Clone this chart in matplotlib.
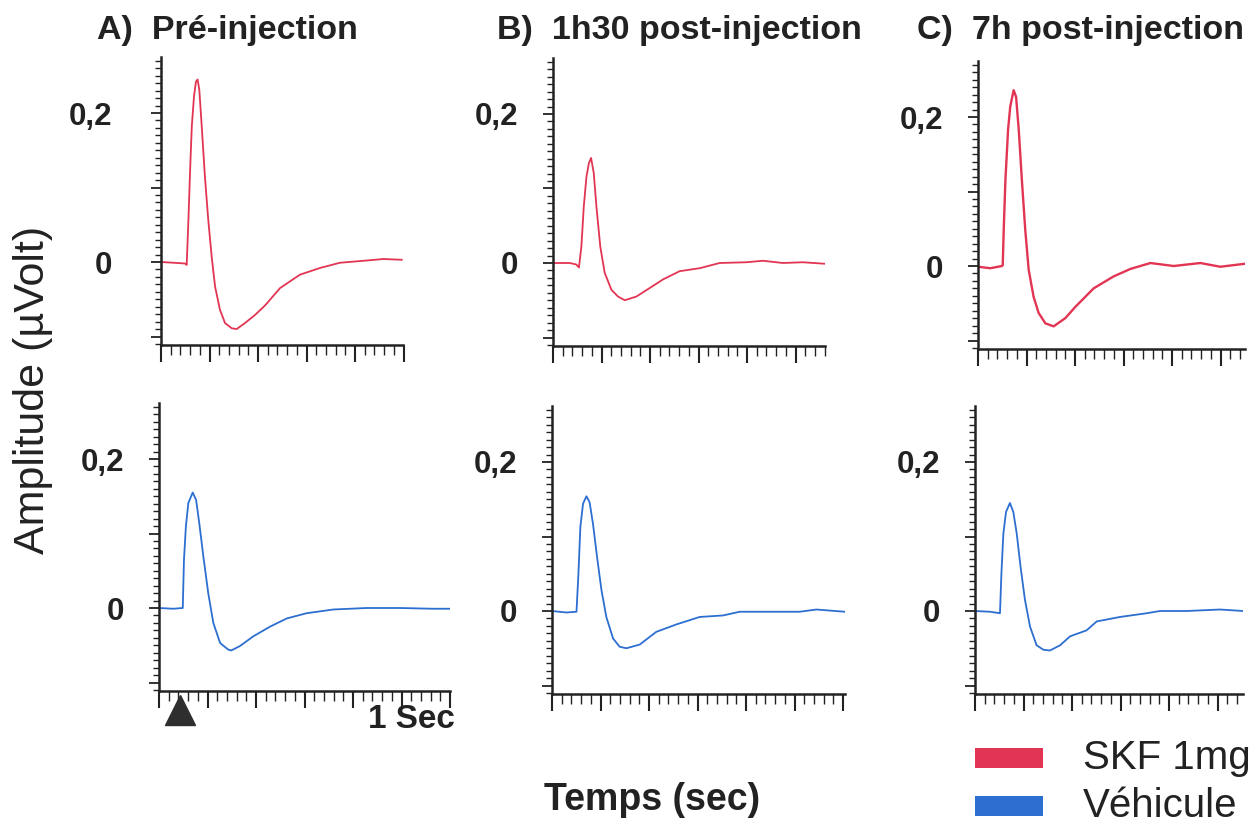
import matplotlib.pyplot as plt
from matplotlib.ticker import MultipleLocator
from matplotlib.patches import Rectangle

plt.rcParams['font.family'] = ['Liberation Sans', 'DejaVu Sans']

# traces: time (s) / amplitude (µV)
t_a_skf = [0, 0.051, 0.099, 0.106, 0.113, 0.120, 0.127, 0.136, 0.144, 0.151, 0.158, 0.168, 0.181,
           0.195, 0.209, 0.223, 0.243, 0.264, 0.292, 0.312, 0.346, 0.388, 0.430, 0.491, 0.573,
           0.656, 0.738, 0.848, 0.917, 0.993]
v_a_skf = [0, -0.001, -0.002, -0.004, 0.056, 0.123, 0.182, 0.222, 0.242, 0.245, 0.231, 0.182, 0.115,
           0.056, 0.007, -0.033, -0.064, -0.082, -0.089, -0.090, -0.082, -0.071, -0.058, -0.035, -0.017,
           -0.008, -0.001, 0.002, 0.004, 0.003]

t_a_veh = [0, 0.059, 0.098, 0.103, 0.111, 0.121, 0.139, 0.153, 0.166, 0.183, 0.203, 0.224, 0.252,
           0.286, 0.298, 0.334, 0.389, 0.458, 0.527, 0.609, 0.719, 0.856, 0.994, 1.13, 1.197]
v_a_veh = [0, -0.001, 0, 0.065, 0.110, 0.141, 0.155, 0.145, 0.114, 0.069, 0.020, -0.020, -0.047,
           -0.056, -0.057, -0.051, -0.038, -0.025, -0.014, -0.007, -0.002, 0, 0, -0.001, -0.001]

t_b_skf = [0, 0.069, 0.096, 0.107, 0.117, 0.127, 0.138, 0.148, 0.157, 0.168, 0.179, 0.195, 0.213,
           0.241, 0.268, 0.296, 0.344, 0.392, 0.454, 0.522, 0.605, 0.687, 0.797, 0.866, 0.948,
           1.03, 1.12]
v_b_skf = [0, 0.0, -0.002, -0.006, 0.022, 0.076, 0.116, 0.134, 0.141, 0.121, 0.076, 0.022, -0.013,
           -0.036, -0.045, -0.050, -0.045, -0.035, -0.022, -0.011, -0.007, 0.0, 0.001, 0.003, 0.0,
           0.001, -0.001]

t_b_veh = [0, 0.059, 0.101, 0.109, 0.117, 0.128, 0.142, 0.155, 0.169, 0.186, 0.204, 0.224, 0.252,
           0.279, 0.307, 0.362, 0.430, 0.513, 0.609, 0.705, 0.774, 0.884, 1.021, 1.090, 1.207]
v_b_veh = [0, -0.002, -0.001, 0.050, 0.113, 0.144, 0.154, 0.146, 0.117, 0.072, 0.028, -0.008, -0.037,
           -0.048, -0.050, -0.045, -0.028, -0.018, -0.008, -0.006, -0.001, -0.001, -0.001, 0.002, -0.001]

t_c_skf = [0, 0.051, 0.099, 0.102, 0.106, 0.113, 0.124, 0.133, 0.147, 0.157, 0.168, 0.181, 0.195,
           0.209, 0.229, 0.250, 0.278, 0.312, 0.360, 0.401, 0.477, 0.559, 0.628, 0.711, 0.807,
           0.917, 0.999, 1.10]
v_c_skf = [-0.001, -0.003, 0.0, 0.001, 0.048, 0.115, 0.183, 0.214, 0.236, 0.227, 0.183, 0.115, 0.048,
           -0.005, -0.041, -0.063, -0.077, -0.081, -0.070, -0.055, -0.030, -0.014, -0.004, 0.004, 0.0,
           0.004, -0.001, 0.003]

t_c_veh = [0, 0.062, 0.103, 0.109, 0.117, 0.128, 0.144, 0.158, 0.172, 0.188, 0.206, 0.227, 0.254,
           0.282, 0.309, 0.351, 0.392, 0.460, 0.502, 0.598, 0.708, 0.763, 0.873, 1.010, 1.106]
v_c_veh = [0, -0.001, -0.003, 0.051, 0.104, 0.133, 0.145, 0.133, 0.104, 0.059, 0.015, -0.021, -0.046,
           -0.052, -0.053, -0.046, -0.034, -0.026, -0.014, -0.008, -0.003, 0, 0, 0.002, 0.0]

titles = ["A)  Pré-injection", "B)  1h30 post-injection", "C)  7h post-injection"]
legend_labels = ["SKF 1mg", "Véhicule"]
stim_time = 0.087

RED = '#e23553'
BLUE = '#2c6fd1'
W, H = 1256, 823
XS, YS = 242.5, 745.0   # px per second, px per µV
YMIN, YMAX = -0.112, 0.275

fig = plt.figure(figsize=(W / 100, H / 100), dpi=100)


def make_axes(left, y0, xmax, pad):
    right = left + xmax * XS
    top = y0 - YMAX * YS
    bottom = y0 - YMIN * YS
    ax = fig.add_axes([left / W, 1 - bottom / H, (right - left) / W, (bottom - top) / H])
    ax.set_xlim(0, xmax)
    ax.set_ylim(YMIN, YMAX)
    for s in ['top', 'right']:
        ax.spines[s].set_visible(False)
    for s in ['left', 'bottom']:
        ax.spines[s].set_linewidth(1.8)
        ax.spines[s].set_color('#222222')
    ax.xaxis.set_major_locator(MultipleLocator(0.2))
    ax.xaxis.set_minor_locator(MultipleLocator(0.04))
    ax.set_xticklabels([])
    ax.set_yticks([-0.1, 0, 0.1, 0.2])
    ax.set_yticklabels(['', '0', '', '0,2'], fontsize=22.5, fontweight='bold', color='#222222')
    ax.yaxis.set_minor_locator(MultipleLocator(0.01))
    ax.tick_params(axis='y', which='major', direction='out', length=7, width=1.3, pad=pad, color='#222222')
    ax.tick_params(axis='y', which='minor', direction='out', length=4, width=1.0, color='#222222')
    ax.tick_params(axis='x', which='major', direction='out', length=12, width=1.5, color='#222222')
    ax.tick_params(axis='x', which='minor', direction='out', length=7, width=1.0, color='#222222')
    ax.patch.set_alpha(0)
    return ax


# left px, baseline px, x extent, label pad
ax_a1 = make_axes(161, 262, 1.0, 28)
ax_a2 = make_axes(159, 608, 1.2, 18)
ax_b1 = make_axes(553, 263, 1.12, 18)
ax_b2 = make_axes(552, 611, 1.21, 18)
ax_c1 = make_axes(978, 266, 1.10, 18)
ax_c2 = make_axes(975, 611, 1.105, 18)

ax_a1.plot(t_a_skf, v_a_skf, color=RED, lw=1.3)
ax_b1.plot(t_b_skf, v_b_skf, color=RED, lw=1.3)
ax_c1.plot(t_c_skf, v_c_skf, color=RED, lw=1.7)
ax_a2.plot(t_a_veh, v_a_veh, color=BLUE, lw=1.3)
ax_b2.plot(t_b_veh, v_b_veh, color=BLUE, lw=1.3)
ax_c2.plot(t_c_veh, v_c_veh, color=BLUE, lw=1.3)

# stimulus marker
ax_a2.plot([stim_time], [-0.066], marker='^', ms=22, color='#2e2e2e',
           transform=ax_a2.get_xaxis_transform(), clip_on=False)

# titles
for x, t in zip([97, 497, 917], titles):
    fig.text(x / W, 1 - 30 / H, t, fontsize=24.5, fontweight='bold', color='#222222',
             ha='left', va='center')

fig.text(455 / W, 1 - 720 / H, "1 Sec", fontsize=24, fontweight='bold', color='#222222',
         ha='right', va='center')
fig.text(33 / W, 1 - 390 / H, "Amplitude (µVolt)", fontsize=31, rotation=90,
         ha='center', va='center', color='#222222')
fig.text(652 / W, 1 - 800 / H, "Temps (sec)", fontsize=27, fontweight='bold',
         ha='center', va='center', color='#222222')

# legend
for y, c, lab in zip([758, 806], [RED, BLUE], legend_labels):
    fig.add_artist(Rectangle((975 / W, 1 - (y + 10) / H), 68 / W, 20 / H,
                             transform=fig.transFigure, color=c, lw=0))
    fig.text(1083 / W, 1 - y / H, lab, fontsize=29, ha='left', va='center', color='#222222')

fig.savefig("out.png", dpi=100)
